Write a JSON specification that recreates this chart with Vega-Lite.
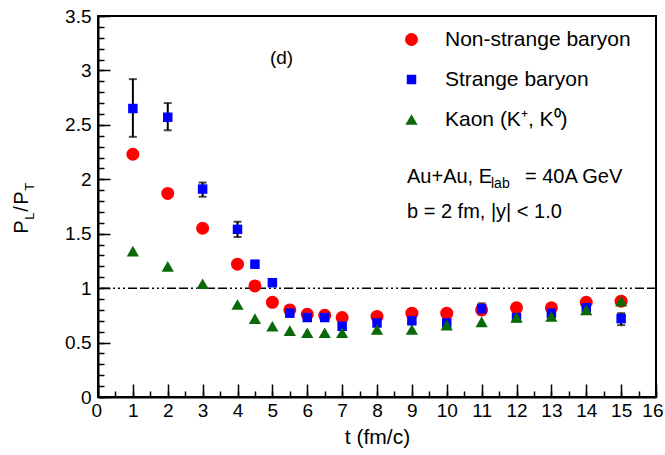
{
  "$schema": "https://vega.github.io/schema/vega-lite/v6.json",
  "width": 558,
  "height": 381,
  "autosize": {"type": "none"},
  "padding": {"left": 98, "top": 16, "right": 9, "bottom": 58},
  "config": {
    "font": "Liberation Sans",
    "view": {"stroke": "black", "strokeWidth": 2},
    "axis": {"grid": false, "domainColor": "black", "tickColor": "black", "labelColor": "black", "titleColor": "black", "labelFont": "Liberation Sans", "titleFont": "Liberation Sans"}
  },
  "datasets": {
    "pts": [
      {"t": 1, "v": 2.23, "s": "Non-strange baryon"},
      {"t": 2, "v": 1.87, "s": "Non-strange baryon"},
      {"t": 3, "v": 1.55, "s": "Non-strange baryon"},
      {"t": 4, "v": 1.22, "s": "Non-strange baryon"},
      {"t": 4.5, "v": 1.02, "s": "Non-strange baryon"},
      {"t": 5, "v": 0.87, "s": "Non-strange baryon"},
      {"t": 5.5, "v": 0.8, "s": "Non-strange baryon"},
      {"t": 6, "v": 0.76, "s": "Non-strange baryon"},
      {"t": 6.5, "v": 0.75, "s": "Non-strange baryon"},
      {"t": 7, "v": 0.73, "s": "Non-strange baryon"},
      {"t": 8, "v": 0.74, "s": "Non-strange baryon"},
      {"t": 9, "v": 0.77, "s": "Non-strange baryon"},
      {"t": 10, "v": 0.77, "s": "Non-strange baryon"},
      {"t": 11, "v": 0.8, "s": "Non-strange baryon"},
      {"t": 12, "v": 0.82, "s": "Non-strange baryon"},
      {"t": 13, "v": 0.82, "s": "Non-strange baryon"},
      {"t": 14, "v": 0.87, "s": "Non-strange baryon"},
      {"t": 15, "v": 0.88, "s": "Non-strange baryon"},
      {"t": 1, "v": 2.65, "s": "Strange baryon"},
      {"t": 2, "v": 2.57, "s": "Strange baryon"},
      {"t": 3, "v": 1.91, "s": "Strange baryon"},
      {"t": 4, "v": 1.54, "s": "Strange baryon"},
      {"t": 4.5, "v": 1.22, "s": "Strange baryon"},
      {"t": 5, "v": 1.05, "s": "Strange baryon"},
      {"t": 5.5, "v": 0.77, "s": "Strange baryon"},
      {"t": 6, "v": 0.73, "s": "Strange baryon"},
      {"t": 6.5, "v": 0.73, "s": "Strange baryon"},
      {"t": 7, "v": 0.65, "s": "Strange baryon"},
      {"t": 8, "v": 0.68, "s": "Strange baryon"},
      {"t": 9, "v": 0.7, "s": "Strange baryon"},
      {"t": 10, "v": 0.68, "s": "Strange baryon"},
      {"t": 11, "v": 0.81, "s": "Strange baryon"},
      {"t": 12, "v": 0.73, "s": "Strange baryon"},
      {"t": 13, "v": 0.77, "s": "Strange baryon"},
      {"t": 14, "v": 0.82, "s": "Strange baryon"},
      {"t": 15, "v": 0.72, "s": "Strange baryon"},
      {"t": 1, "v": 1.34, "s": "Kaon (K⁺, K⁰)"},
      {"t": 2, "v": 1.2, "s": "Kaon (K⁺, K⁰)"},
      {"t": 3, "v": 1.04, "s": "Kaon (K⁺, K⁰)"},
      {"t": 4, "v": 0.85, "s": "Kaon (K⁺, K⁰)"},
      {"t": 4.5, "v": 0.72, "s": "Kaon (K⁺, K⁰)"},
      {"t": 5, "v": 0.65, "s": "Kaon (K⁺, K⁰)"},
      {"t": 5.5, "v": 0.61, "s": "Kaon (K⁺, K⁰)"},
      {"t": 6, "v": 0.59, "s": "Kaon (K⁺, K⁰)"},
      {"t": 6.5, "v": 0.59, "s": "Kaon (K⁺, K⁰)"},
      {"t": 7, "v": 0.59, "s": "Kaon (K⁺, K⁰)"},
      {"t": 8, "v": 0.62, "s": "Kaon (K⁺, K⁰)"},
      {"t": 9, "v": 0.62, "s": "Kaon (K⁺, K⁰)"},
      {"t": 10, "v": 0.66, "s": "Kaon (K⁺, K⁰)"},
      {"t": 11, "v": 0.69, "s": "Kaon (K⁺, K⁰)"},
      {"t": 12, "v": 0.73, "s": "Kaon (K⁺, K⁰)"},
      {"t": 13, "v": 0.74, "s": "Kaon (K⁺, K⁰)"},
      {"t": 14, "v": 0.8, "s": "Kaon (K⁺, K⁰)"},
      {"t": 15, "v": 0.88, "s": "Kaon (K⁺, K⁰)"}
    ],
    "err": [
      {"t": 1, "lo": 2.39, "hi": 2.92},
      {"t": 2, "lo": 2.45, "hi": 2.7},
      {"t": 3, "lo": 1.84, "hi": 1.97},
      {"t": 4, "lo": 1.47, "hi": 1.61},
      {"t": 4.5, "lo": 1.19, "hi": 1.25},
      {"t": 5, "lo": 1.02, "hi": 1.08},
      {"t": 5.5, "lo": 0.74, "hi": 0.8},
      {"t": 6, "lo": 0.7, "hi": 0.76},
      {"t": 6.5, "lo": 0.7, "hi": 0.76},
      {"t": 7, "lo": 0.62, "hi": 0.68},
      {"t": 8, "lo": 0.65, "hi": 0.71},
      {"t": 9, "lo": 0.67, "hi": 0.73},
      {"t": 10, "lo": 0.65, "hi": 0.71},
      {"t": 11, "lo": 0.76, "hi": 0.86},
      {"t": 12, "lo": 0.7, "hi": 0.76},
      {"t": 13, "lo": 0.74, "hi": 0.8},
      {"t": 14, "lo": 0.79, "hi": 0.85},
      {"t": 15, "lo": 0.66, "hi": 0.77}
    ]
  },
  "resolve": {"axis": {"x": "independent", "y": "independent"}},
  "layer": [
    {
      "data": {"name": "pts"},
      "mark": {"type": "point", "opacity": 0},
      "encoding": {
        "x": {"field": "t", "type": "quantitative", "scale": {"domain": [0, 16], "nice": false},
          "axis": {"orient": "bottom", "tickCount": 32, "tickSize": -6, "tickWidth": 1.5, "labels": false, "domain": false, "title": null}},
        "y": {"field": "v", "type": "quantitative", "scale": {"domain": [0, 3.5], "nice": false},
          "axis": {"orient": "left", "tickCount": 35, "tickSize": -6, "tickWidth": 1.5, "labels": false, "domain": false, "title": null}}
      }
    },
    {
      "data": {"values": [{}]},
      "mark": {"type": "rule", "color": "black", "strokeWidth": 1.5, "strokeDash": [9, 3, 9, 3, 2, 3, 2, 3, 2, 3]},
      "encoding": {
        "y": {"datum": 1, "type": "quantitative", "scale": {"domain": [0, 3.5], "nice": false}, "axis": null}
      }
    },
    {
      "data": {"name": "err"},
      "mark": {"type": "errorbar", "ticks": {"size": 8, "thickness": 2, "color": "black"}, "rule": {"strokeWidth": 2, "color": "black"}},
      "encoding": {
        "x": {"field": "t", "type": "quantitative", "scale": {"domain": [0, 16], "nice": false}, "axis": null},
        "y": {"field": "lo", "type": "quantitative", "scale": {"domain": [0, 3.5], "nice": false}, "axis": null},
        "y2": {"field": "hi"}
      }
    },
    {
      "data": {"name": "pts"},
      "mark": {"type": "point", "filled": true, "opacity": 1, "strokeWidth": 0},
      "encoding": {
        "x": {"field": "t", "type": "quantitative", "scale": {"domain": [0, 16], "nice": false},
          "axis": {"orient": "bottom", "tickCount": 16, "tickSize": -13, "tickWidth": 1.5, "domainWidth": 2, "labelPadding": 17, "labelFontSize": 19, "labelFlush": true, "labelFlushOffset": 7, "labelOverlap": false, "format": "~g",
            "title": "t (fm/c)", "titleFontSize": 21, "titleFontWeight": "normal", "titlePadding": 6}},
        "y": {"field": "v", "type": "quantitative", "scale": {"domain": [0, 3.5], "nice": false},
          "axis": {"orient": "left", "tickCount": 7, "tickSize": -12, "tickWidth": 1.5, "domainWidth": 2, "labelPadding": 19, "labelFontSize": 19, "labelFlush": false, "labelOverlap": false, "format": "~g", "title": null}},
        "color": {"field": "s", "type": "nominal",
          "scale": {"domain": ["Non-strange baryon", "Strange baryon", "Kaon (K⁺, K⁰)"], "range": ["#ff0000", "#0000ff", "#0a6a0a"]},
          "legend": {"title": null, "orient": "none", "legendX": 303, "legendY": 13, "padding": 0, "labelFontSize": 21, "labelOffset": 23, "labelLimit": 400, "rowPadding": 18, "labelColor": "black", "symbolStrokeWidth": 0}},
        "shape": {"field": "s", "type": "nominal",
          "scale": {"domain": ["Non-strange baryon", "Strange baryon", "Kaon (K⁺, K⁰)"], "range": ["circle", "square", "triangle-up"]},
          "legend": {"title": null, "orient": "none", "legendX": 303, "legendY": 13, "padding": 0, "labelFontSize": 21, "labelOffset": 23, "labelLimit": 400, "rowPadding": 18, "labelColor": "black", "symbolStrokeWidth": 0}},
        "size": {"field": "s", "type": "nominal",
          "scale": {"type": "ordinal", "domain": ["Non-strange baryon", "Strange baryon", "Kaon (K⁺, K⁰)"], "range": [169, 90, 150]},
          "legend": {"title": null, "orient": "none", "legendX": 303, "legendY": 13, "padding": 0, "labelFontSize": 21, "labelOffset": 23, "labelLimit": 400, "rowPadding": 18, "labelColor": "black", "symbolStrokeWidth": 0}}
      }
    },
    {
      "data": {"values": [{}]},
      "mark": {"type": "text", "text": "(d)", "fontSize": 19, "align": "left", "baseline": "middle", "color": "black"},
      "encoding": {
        "x": {"datum": 4.93, "type": "quantitative", "axis": null},
        "y": {"datum": 3.11, "type": "quantitative", "axis": null}
      }
    },
    {
      "data": {"values": [{}]},
      "mark": {"type": "text", "text": "Au+Au, E", "fontSize": 20, "align": "left", "baseline": "alphabetic", "color": "black"},
      "encoding": {
        "x": {"datum": 8.86, "type": "quantitative", "axis": null},
        "y": {"datum": 1.966, "type": "quantitative", "axis": null}
      }
    },
    {
      "data": {"values": [{}]},
      "mark": {"type": "text", "text": "lab", "fontSize": 14, "align": "left", "baseline": "alphabetic", "dx": 84, "dy": 5, "color": "black"},
      "encoding": {
        "x": {"datum": 8.86, "type": "quantitative", "axis": null},
        "y": {"datum": 1.966, "type": "quantitative", "axis": null}
      }
    },
    {
      "data": {"values": [{}]},
      "mark": {"type": "text", "text": "= 40A GeV", "fontSize": 20, "align": "left", "baseline": "alphabetic", "dx": 118, "color": "black"},
      "encoding": {
        "x": {"datum": 8.86, "type": "quantitative", "axis": null},
        "y": {"datum": 1.966, "type": "quantitative", "axis": null}
      }
    },
    {
      "data": {"values": [{}]},
      "mark": {"type": "text", "text": "b = 2 fm, |y| < 1.0", "fontSize": 20, "align": "left", "baseline": "alphabetic", "color": "black"},
      "encoding": {
        "x": {"datum": 8.86, "type": "quantitative", "axis": null},
        "y": {"datum": 1.644, "type": "quantitative", "axis": null}
      }
    },
    {
      "data": {"values": [{}]},
      "mark": {"type": "text", "text": "P", "fontSize": 20, "angle": 270, "align": "left", "baseline": "alphabetic", "color": "black"},
      "encoding": {
        "x": {"datum": -2.0, "type": "quantitative", "axis": null},
        "y": {"datum": 1.5, "type": "quantitative", "axis": null}
      }
    },
    {
      "data": {"values": [{}]},
      "mark": {"type": "text", "text": "L", "fontSize": 13, "angle": 270, "align": "left", "baseline": "alphabetic", "dx": 14, "dy": 6, "color": "black"},
      "encoding": {
        "x": {"datum": -2.0, "type": "quantitative", "axis": null},
        "y": {"datum": 1.5, "type": "quantitative", "axis": null}
      }
    },
    {
      "data": {"values": [{}]},
      "mark": {"type": "text", "text": "/", "fontSize": 20, "angle": 270, "align": "left", "baseline": "alphabetic", "dx": 22, "color": "black"},
      "encoding": {
        "x": {"datum": -2.0, "type": "quantitative", "axis": null},
        "y": {"datum": 1.5, "type": "quantitative", "axis": null}
      }
    },
    {
      "data": {"values": [{}]},
      "mark": {"type": "text", "text": "P", "fontSize": 20, "angle": 270, "align": "left", "baseline": "alphabetic", "dx": 29, "color": "black"},
      "encoding": {
        "x": {"datum": -2.0, "type": "quantitative", "axis": null},
        "y": {"datum": 1.5, "type": "quantitative", "axis": null}
      }
    },
    {
      "data": {"values": [{}]},
      "mark": {"type": "text", "text": "T", "fontSize": 13, "angle": 270, "align": "left", "baseline": "alphabetic", "dx": 43, "dy": 6, "color": "black"},
      "encoding": {
        "x": {"datum": -2.0, "type": "quantitative", "axis": null},
        "y": {"datum": 1.5, "type": "quantitative", "axis": null}
      }
    }
  ]
}
